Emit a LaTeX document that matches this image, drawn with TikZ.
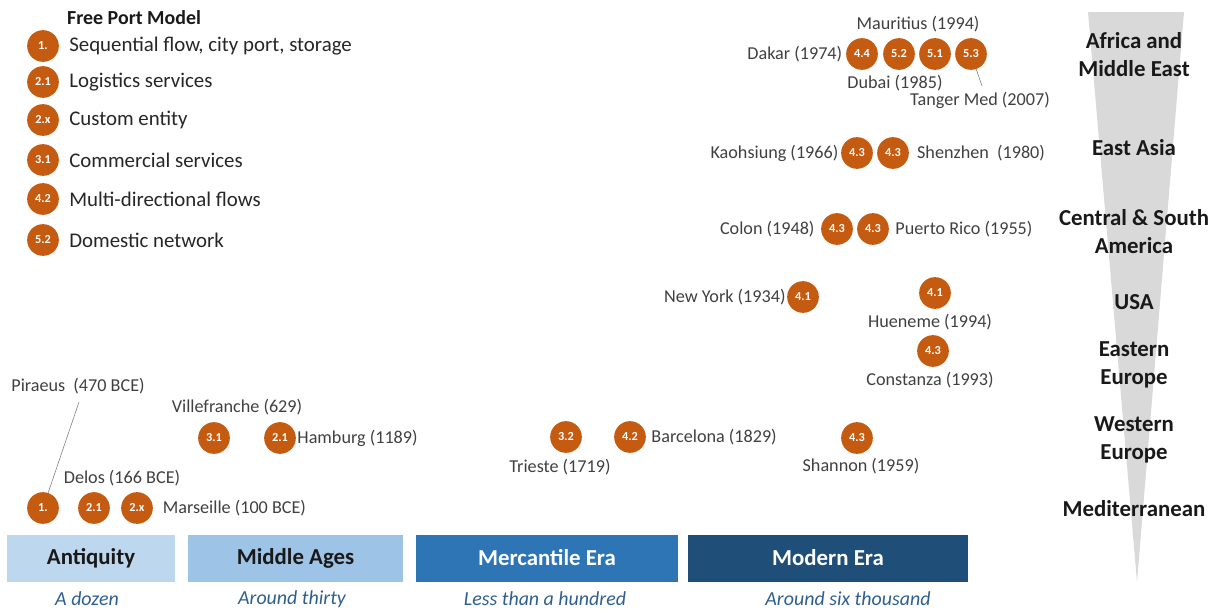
\documentclass[tikz,border=0pt]{standalone}
\usepackage{fontspec}
\setmainfont{Carlito}
\usetikzlibrary{positioning}
\definecolor{portorange}{HTML}{C55A11}
\definecolor{placegray}{HTML}{404040}
\definecolor{eraone}{HTML}{BDD7EE}
\definecolor{eratwo}{HTML}{9DC3E6}
\definecolor{erathree}{HTML}{2E75B6}
\definecolor{erafour}{HTML}{1F4E79}
\definecolor{notecolor}{HTML}{2E5F8F}
\definecolor{wedgegray}{HTML}{D9D9D9}
\begin{document}
\begin{tikzpicture}[x=0.03cm,y=-0.03cm,
  port/.style={circle, fill=portorange, text=white, inner sep=0pt, minimum size=0.95cm, font=\fontsize{10.5}{11}\selectfont\bfseries},
  place/.style={text=placegray, inner sep=1pt, font=\fontsize{15.5}{17}\selectfont},
  legend/.style={text=black!85, inner sep=0pt, font=\fontsize{17.8}{19}\selectfont},
  region/.style={align=center, text=black!90, inner sep=0pt, font=\fontsize{19.5}{24}\selectfont\bfseries},
  era/.style={minimum height=1.41cm, inner sep=0pt, text=black!90, font=\fontsize{19.5}{22}\selectfont\bfseries},
  eranote/.style={text=notecolor, font=\fontsize{17}{19}\selectfont\itshape},
  pointer/.style={draw=gray, line width=0.5pt}]

\useasboundingbox (0,0) rectangle (1221,613);

% regions
\fill[wedgegray] (1088,12) -- (1184,12) -- (1137,582) -- cycle;
\node[region] (afr) at (1134,55) {Africa and\\Middle East};
\node[region] (eas) at (1134,148) {East Asia};
\node[region] (csa) at (1134,232) {Central \& South\\America};
\node[region] (usa) at (1134,302) {USA};
\node[region] (eeu) at (1134,365) {Eastern\\Europe};
\node[region] (weu) at (1134,440) {Western\\Europe};
\node[region] (med) at (1134,509) {Mediterranean};

% legend
\node[anchor=west, inner sep=0pt, text=black!90, font=\fontsize{17}{19}\selectfont\bfseries] (title) at (67,18) {Free Port Model};
\node[port] (l1) at (43,46) {1.};
\node[port] (l21) at (43,82) {2.1};
\node[port] (l2x) at (43,120) {2.x};
\node[port] (l31) at (43,160) {3.1};
\node[port] (l42) at (43,199) {4.2};
\node[port] (l52) at (43,240) {5.2};
\node[legend, right=0.3cm of l1] {Sequential flow, city port, storage};
\node[legend, right=0.3cm of l21] {Logistics services};
\node[legend, right=0.3cm of l2x] {Custom entity};
\node[legend, right=0.3cm of l31] {Commercial services};
\node[legend, right=0.3cm of l42] {Multi-directional flows};
\node[legend, right=0.3cm of l52] {Domestic network};

% africa and middle east
\node[port] (dak) at (862,54) {4.4};
\node[port] (dub) at (899,54) {5.2};
\node[port] (mau) at (935,54) {5.1};
\node[port] (tan) at (971,54) {5.3};
\node[place, left=2pt of dak] (dakt) {Dakar (1974)};
\node[place] (maut) at (918,24) {Mauritius (1994)};
\node[place] (dubt) at (895,83) {Dubai (1985)};
\node[place] (tant) at (980,100) {Tanger Med (2007)};
\coordinate (tanend) at (982,86);
\draw[pointer] (tan) -- (tanend);

% east asia
\node[port] (kao) at (857,153) {4.3};
\node[port] (she) at (893,153) {4.3};
\node[place, left=1pt of kao] (kaot) {Kaohsiung (1966)};
\node[place, right=0.2cm of she] (shet) {Shenzhen~ (1980)};

% central and south america
\node[port] (col) at (837,229) {4.3};
\node[port] (pri) at (873,229) {4.3};
\node[place, left=0.15cm of col] (colt) {Colon (1948)};
\node[place, right=0.15cm of pri] (prit) {Puerto Rico (1955)};

% usa
\node[port] (nyc) at (803,297) {4.1};
\node[place, left=0pt of nyc] (nyct) {New York (1934)};
\node[port] (hue) at (935,293) {4.1};
\node[place] (huet) at (930,322) {Hueneme (1994)};

% europe
\node[port] (con) at (933,351) {4.3};
\node[place] (cont) at (930,380) {Constanza (1993)};
\node[port] (sha) at (857,438) {4.3};
\node[place] (shat) at (861,466) {Shannon (1959)};
\node[port] (bar) at (630,437) {4.2};
\node[place, right=0.12cm of bar] (bart) {Barcelona (1829)};
\node[port] (tri) at (566,437) {3.2};
\node[place] (trit) at (560,467) {Trieste (1719)};
\node[port] (vil) at (214,438) {3.1};
\node[place] (vilt) at (237,407) {Villefranche (629)};
\node[port] (ham) at (280,438) {2.1};
\node[place, right=0pt of ham] (hamt) {Hamburg (1189)};

% mediterranean
\node[port] (pir) at (43,508) {1.};
\node[place, anchor=west] (pirt) at (10,386) {Piraeus~ (470 BCE)};
\coordinate (pirend) at (79,402);
\draw[pointer] (pirend) -- (pir);
\node[port] (del) at (94,508) {2.1};
\node[port] (mar) at (137,508) {2.x};
\node[place] (delt) at (122,478) {Delos (166 BCE)};
\node[place, right=0.25cm of mar] (mart) {Marseille (100 BCE)};

% eras
\node[era, fill=eraone, minimum width=5.04cm] (ant) at (91,558) {Antiquity};
\node[era, fill=eratwo, minimum width=6.45cm] (mid) at (295.5,558) {Middle Ages};
\node[era, fill=erathree, text=white, minimum width=7.86cm] (mer) at (547,558) {Mercantile Era};
\node[era, fill=erafour, text=white, minimum width=8.4cm] (mod) at (828,558) {Modern Era};
\node[eranote] (antn) at (87,599) {A dozen};
\node[eranote] (midn) at (292,599) {Around thirty};
\node[eranote] (mern) at (545,599) {Less than a hundred};
\node[eranote] (modn) at (848,599) {Around six thousand};
\end{tikzpicture}
\end{document}
